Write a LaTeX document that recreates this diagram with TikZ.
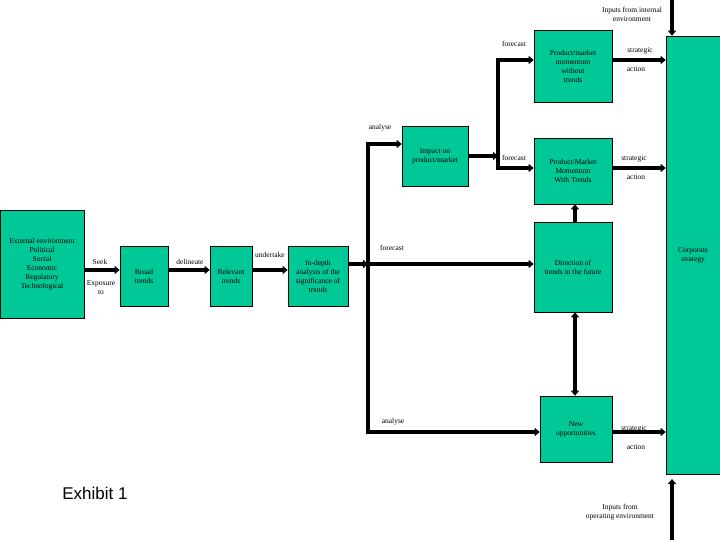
\documentclass[tikz,border=0pt]{standalone}
\usepackage{fontspec}
\setmainfont{Liberation Serif}
\newfontfamily\arialf{Liberation Sans}
\usetikzlibrary{arrows.meta}
\definecolor{boxg}{RGB}{0,200,150}
\begin{document}
\begin{tikzpicture}[x=1pt,y=-1pt,
  gbox/.style={draw=black,fill=boxg,line width=0.6pt,align=center,font=\fontsize{7.5}{9}\selectfont,inner sep=1pt},
  lab/.style={font=\fontsize{7.5}{9}\selectfont,align=center,inner sep=0pt},
  thk/.style={line width=3.5pt,-{Triangle[length=5pt,width=8pt]}},
  thn/.style={line width=3.5pt}]
\useasboundingbox (0,0) rectangle (720,540);
\fill[white] (0,0) rectangle (720,540);
\newcommand{\gb}[6]{\node[gbox,minimum width=#4-#2,minimum height=#5-#3] (#1) at ({(#2+#4)/2},{(#3+#5)/2}) {#6};}
\gb{ext}{0}{210}{84}{318}{External environment\\Political\\Social\\Economic\\Regulatory\\Technological}
\gb{broad}{120}{246}{168}{306}{Broad\\trends}
\gb{rel}{210}{246}{252}{306}{Relevant\\trends}
\gb{indep}{288}{246}{348}{306}{In-depth\\analysis of the\\significance of\\trends}
\gb{imp}{402}{126}{468}{186}{Impact on\\product/market}
\gb{mw}{534}{30}{612}{102}{Product/market\\momentum\\without\\trends}
\gb{mt}{534}{138}{612}{204}{Product/Market\\Momentum\\With Trends}
\gb{dir}{534}{222}{612}{312}{Direction of\\trends in the future}
\gb{newo}{540}{396}{612}{462}{New\\opportunities}
\gb{corp}{666}{36}{720}{474}{Corporate\\strategy}
\coordinate (v1) at (368,144);
\coordinate (v2) at (368,432);
\coordinate (vm) at (368,270);
\coordinate (w1) at (498,60);
\coordinate (w2) at (498,168);
\coordinate (wm) at (498,156);
\coordinate (tin) at (672,0);
\coordinate (bin) at (672,540);
\draw[thk] (ext.east|-0,270) -- (broad.west|-0,270);
\draw[thk] (broad.east|-0,270) -- (rel.west|-0,270);
\draw[thk] (rel.east|-0,270) -- (indep.west|-0,270);
\draw[thk] (indep.east|-0,264) -- (vm|-0,264);
\draw[thn] (v1) -- (v2);
\draw[thk] ([xshift=-1.75pt]v1) -- (imp.west|-v1);
\draw[thk] (vm|-0,264) -- (dir.west|-0,264);
\draw[thk] ([xshift=-1.75pt]v2) -- (newo.west|-v2);
\draw[thk] (imp.east|-wm) -- (wm);
\draw[thn] (w1) -- (w2);
\draw[thk] ([xshift=-1.75pt]w1) -- (mw.west|-w1);
\draw[thk] ([xshift=-1.75pt]w2) -- (mt.west|-w2);
\draw[thk] (mw.east|-0,60) -- (corp.west|-0,60);
\draw[thk] (mt.east|-0,168) -- (corp.west|-0,168);
\draw[thk] (newo.east|-0,432) -- (corp.west|-0,432);
\draw[thk] (dir.north-|575,0) -- (mt.south-|575,0);
\draw[line width=3.5pt,{Triangle[length=5pt,width=8pt]}-{Triangle[length=5pt,width=8pt]}] (dir.south-|575,0) -- (newo.north-|575,0);
\draw[thk] (tin) -- (tin|-corp.north);
\draw[thk] (bin) -- (672,479);
\node[lab] (l1) at (100,262) {Seek};
\node[lab,anchor=north] (l2) at (101,280) {Exposure\\to};
\node[lab] (l3) at (190,262) {delineate};
\node[lab] (l4) at (270,255) {undertake};
\node[lab] (l5) at (380,128) {analyse};
\node[lab] (l6) at (514,44) {forecast};
\node[lab] (l7) at (514,158) {forecast};
\node[lab] (l8) at (392,248) {forecast};
\node[lab] (l9) at (393,422) {analyse};
\node[lab] (l10) at (640,51) {strategic};
\node[lab] (l11) at (636,69) {action};
\node[lab] (l12) at (634,159) {strategic};
\node[lab] (l13) at (636,177) {action};
\node[lab] (l14) at (634,429) {strategic};
\node[lab] (l15) at (636,447) {action};
\node[lab] (l16) at (632,14) {Inputs from internal\\environment};
\node[lab] (l17) at (620,512) {Inputs from\\operating environment};
\node[lab,font=\arialf\fontsize{17}{20}\selectfont] (l18) at (95,493) {Exhibit 1};
\end{tikzpicture}
\end{document}
